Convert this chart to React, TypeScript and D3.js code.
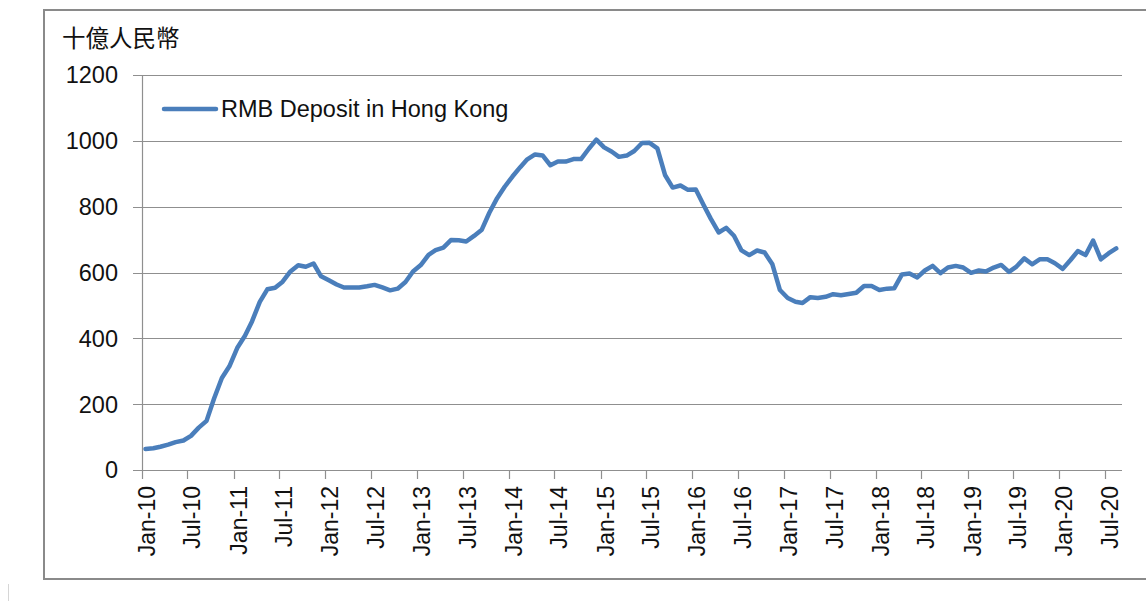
import React, { useEffect, useRef } from "react";
import * as d3 from "d3";

// RMB deposits in Hong Kong, billion RMB, monthly from Jan-2010
const dep2010 = [63.9, 66.0, 70.7, 77.1, 84.7, 89.7, 103.7, 128.6, 149.3, 217.1, 279.6, 314.9];
const dep2011 = [370.6, 407.6, 451.4, 510.8, 548.9, 553.6, 572.2, 603.3, 622.2, 617.4, 627.3, 588.5];
const dep2012 = [576.4, 563.6, 554.3, 554.6, 554.2, 558.0, 562.3, 554.5, 545.8, 550.9, 571.0, 603.0];
const dep2013 = [622.5, 653.8, 668.1, 675.6, 698.5, 697.9, 694.2, 711.2, 730.0, 781.4, 825.9, 860.5];
const dep2014 = [891.5, 920.1, 943.9, 958.7, 955.6, 925.9, 937.0, 937.1, 944.7, 944.5, 975.9, 1003.6];
const dep2015 = [980.1, 967.0, 951.3, 955.2, 969.2, 993.5, 993.9, 977.2, 895.4, 858.0, 864.3, 851.1];
const dep2016 = [852.2, 804.8, 762.8, 721.6, 735.6, 711.7, 667.1, 652.9, 666.7, 660.7, 624.8, 546.7];
const dep2017 = [522.6, 511.3, 507.3, 525.1, 522.6, 526.2, 534.0, 530.6, 534.4, 538.4, 559.1, 559.1];
const dep2018 = [547, 551, 552, 594, 597, 585, 606, 620, 598, 615, 620, 615];
const dep2019 = [599, 606, 603, 615, 623, 602, 618, 643, 625, 640, 640, 628];
const dep2020 = [611, 638, 665, 653, 697, 640, 658, 673];

const deposits = [
  ...dep2010, ...dep2011, ...dep2012, ...dep2013, ...dep2014, ...dep2015,
  ...dep2016, ...dep2017, ...dep2018, ...dep2019, ...dep2020,
];

const yTicks = [0, 200, 400, 600, 800, 1000, 1200];
const xTickMonths = d3.range(0, 127, 6); // Jan-10 .. Jul-20
const seriesName = "RMB Deposit in Hong Kong";
const unitLabel = "十億人民幣";

const FONT = "'Liberation Sans', Arial, sans-serif";
const LINE_COLOR = "#4A7EBB";
const GRID_COLOR = "#8f8f8f";

export default function App() {
  const ref = useRef<SVGSVGElement>(null);

  useEffect(() => {
    const svg = d3.select(ref.current);
    svg.selectAll("*").remove();

    const x = d3
      .scaleTime()
      .domain([new Date(2010, 0, 1), new Date(2020, 8, 7)])
      .range([142, 1122]);
    const y = d3.scaleLinear().domain([0, 1200]).range([470, 75]);

    // outer frame
    svg.append("rect")
      .attr("x", 44).attr("y", 10)
      .attr("width", 1120).attr("height", 569)
      .attr("fill", "none")
      .attr("stroke", "#8a8a8a")
      .attr("stroke-width", 2);

    svg.append("line")
      .attr("x1", 8.5).attr("x2", 8.5)
      .attr("y1", 584).attr("y2", 601)
      .attr("stroke", "#d6d6d6");

    // gridlines + y ticks
    const grid = svg.append("g");
    grid.selectAll("line.grid")
      .data(yTicks)
      .join("line")
      .attr("class", "grid")
      .attr("x1", 133).attr("x2", x.range()[1])
      .attr("y1", (d) => Math.round(y(d)) + 0.5)
      .attr("y2", (d) => Math.round(y(d)) + 0.5)
      .attr("stroke", GRID_COLOR)
      .attr("stroke-width", 1.2);

    grid.selectAll("text")
      .data(yTicks)
      .join("text")
      .attr("x", 118)
      .attr("y", (d) => y(d))
      .attr("dy", "0.36em")
      .attr("text-anchor", "end")
      .attr("font-family", FONT)
      .attr("font-size", 23.5)
      .attr("fill", "#111")
      .text((d) => String(d));

    // y axis line
    svg.append("line")
      .attr("x1", 142.5).attr("x2", 142.5)
      .attr("y1", y(1200)).attr("y2", y(0))
      .attr("stroke", GRID_COLOR)
      .attr("stroke-width", 1.2);

    // x axis ticks and labels
    const fmt = d3.timeFormat("%b-%y");
    const tickDates = xTickMonths.map((m) => new Date(2010, m, 1));
    const xt = svg.append("g");
    xt.selectAll("line")
      .data(tickDates)
      .join("line")
      .attr("x1", (d) => Math.round(x(d)) + 0.5)
      .attr("x2", (d) => Math.round(x(d)) + 0.5)
      .attr("y1", y(0))
      .attr("y2", y(0) + 9)
      .attr("stroke", GRID_COLOR)
      .attr("stroke-width", 1.2);

    xt.selectAll("text")
      .data(tickDates)
      .join("text")
      .attr("transform", (d) => `translate(${x(d) + 13},486) rotate(-90)`)
      .attr("text-anchor", "end")
      .attr("font-family", FONT)
      .attr("font-size", 23)
      .attr("fill", "#111")
      .text((d) => fmt(d));

    // series
    const line = d3
      .line<number>()
      .x((_, i) => x(new Date(2010, i, 15)))
      .y((d) => y(d));

    svg.append("path")
      .datum(deposits)
      .attr("d", line)
      .attr("fill", "none")
      .attr("stroke", LINE_COLOR)
      .attr("stroke-width", 4.5)
      .attr("stroke-linejoin", "round")
      .attr("stroke-linecap", "round");

    // legend
    svg.append("line")
      .attr("x1", 164).attr("x2", 216)
      .attr("y1", 109).attr("y2", 109)
      .attr("stroke", LINE_COLOR)
      .attr("stroke-width", 4.5)
      .attr("stroke-linecap", "round");
    svg.append("text")
      .attr("x", 221).attr("y", 117)
      .attr("font-family", FONT)
      .attr("font-size", 23.5)
      .attr("fill", "#111")
      .text(seriesName);

    // unit label
    svg.append("text")
      .attr("x", 62).attr("y", 47)
      .attr("font-family", "'Noto Sans CJK TC', 'Noto Sans CJK SC', sans-serif")
      .attr("font-size", 23.5)
      .attr("fill", "#111")
      .text(unitLabel);
  }, []);

  return (
    <svg
      ref={ref}
      width={1146}
      height={601}
      style={{ position: "absolute", left: 0, top: 0, background: "#fff" }}
    />
  );
}
